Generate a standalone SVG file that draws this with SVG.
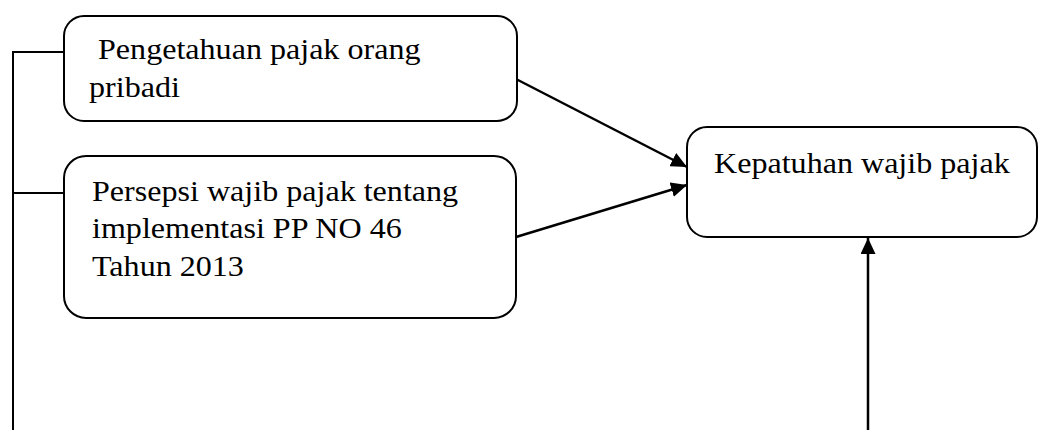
<svg xmlns="http://www.w3.org/2000/svg" width="1040" height="430" viewBox="0 0 1040 430">
<defs>
<style>
.box{fill:#fff;stroke:#000;stroke-width:2}
.t{font-family:"Liberation Serif","Times New Roman",serif;font-size:30px;fill:#000}
.ln{fill:none;stroke:#000;stroke-width:2}
.ar{fill:none;stroke:#000;stroke-width:2.5}
</style>
<marker id="ahb" markerWidth="16" markerHeight="15" refX="16" refY="7.5" orient="auto" markerUnits="userSpaceOnUse" viewBox="0 0 16 15">
<path d="M0,0 L16,7.5 L0,15 z" fill="#000"/>
</marker>
</defs>
<g id="connectors">
<path class="ln" d="M13,430 L13,52 L64,52"/>
<path class="ln" d="M13,193 L64,193"/>
<path class="ar" d="M516,79 L687,167" marker-end="url(#ahb)"/>
<path class="ar" d="M516,237 L687,185" marker-end="url(#ahb)"/>
<path class="ar" d="M868,430 L868,238" marker-end="url(#ahb)"/>
</g>
<g id="node1">
<rect class="box" x="64" y="16" width="453" height="105" rx="20"/>
<text class="t" transform="translate(90,59) scale(1.07,1)" xml:space="preserve"> Pengetahuan pajak orang</text>
<text class="t" transform="translate(89,97) scale(1.07,1)">pribadi</text>
</g>
<g id="node2">
<rect class="box" x="64" y="156" width="452" height="162" rx="22"/>
<text class="t" transform="translate(92,201) scale(1.07,1)">Persepsi wajib pajak tentang</text>
<text class="t" transform="translate(92,238) scale(1.07,1)">implementasi PP NO 46</text>
<text class="t" transform="translate(92,276) scale(1.07,1)">Tahun 2013</text>
</g>
<g id="node3">
<rect class="box" x="687" y="127" width="350" height="110" rx="20"/>
<text class="t" transform="translate(714,173) scale(1.07,1)">Kepatuhan wajib pajak</text>
</g>
</svg>
